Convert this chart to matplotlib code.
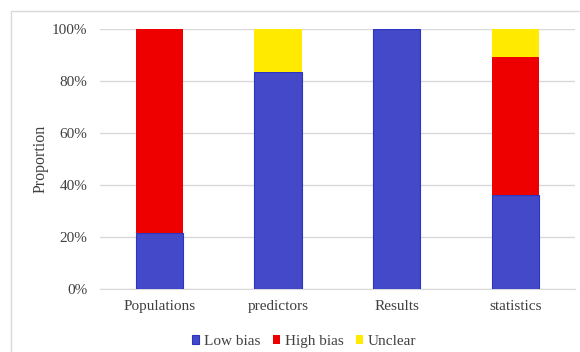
import matplotlib.pyplot as plt
import numpy as np
from matplotlib.patches import Rectangle
from matplotlib.ticker import PercentFormatter

plt.rcParams['font.family'] = ['Liberation Serif', 'DejaVu Serif']

categories = ["Populations", "predictors", "Results", "statistics"]
low_bias = [21.7, 83.3, 100.0, 36.2]
high_bias = [78.3, 0.0, 0.0, 53.0]
unclear = [0.0, 16.7, 0.0, 10.8]

fig = plt.figure(figsize=(5.8, 3.52), dpi=100)
ax = fig.add_axes([0.1724, 0.179, 0.8186, 0.7386])

# outer chart border
fig.patches.append(Rectangle((11/580, -0.1), 1.0, 1 - 11/352 + 0.1,
                             transform=fig.transFigure, fill=False,
                             edgecolor="#d9d9d9", linewidth=1.0))

x = np.arange(len(categories))
w = 0.4
low = np.array(low_bias)
high = np.array(high_bias)
unc = np.array(unclear)
ax.bar(x, low, w, color="#4449c9", edgecolor="#2a35c0", linewidth=0.8,
       label="Low bias", zorder=3)
ax.bar(x, high, w, bottom=low, color="#ee0000", label="High bias", zorder=3)
ax.bar(x, unc, w, bottom=low + high, color="#ffea00", label="Unclear", zorder=3)

ax.set_xlim(-0.5, len(categories) - 0.5)
ax.set_ylim(0, 100)
ax.set_yticks(np.arange(0, 101, 20))
ax.yaxis.set_major_formatter(PercentFormatter(decimals=0))
ax.set_xticks(x)
ax.set_xticklabels(categories)
ax.grid(axis="y", color="#d9d9d9", linewidth=1.0, zorder=0)
for s in ["top", "right", "left"]:
    ax.spines[s].set_visible(False)
ax.spines["bottom"].set_color("#d9d9d9")
ax.tick_params(length=0, labelsize=11, colors="#404040", pad=8)
ax.tick_params(axis="y", pad=9)
ax.set_ylabel("Proportion", fontsize=11.5, color="#404040")
ax.yaxis.set_label_coords(-0.108, 0.5)

ax.legend(loc="upper center", bbox_to_anchor=(0.43, -0.125), ncol=3,
          frameon=False, fontsize=11, handlelength=0.5, handleheight=0.5,
          handletextpad=0.3, columnspacing=0.8, labelcolor="#404040")

fig.savefig("out.png", dpi=100)
